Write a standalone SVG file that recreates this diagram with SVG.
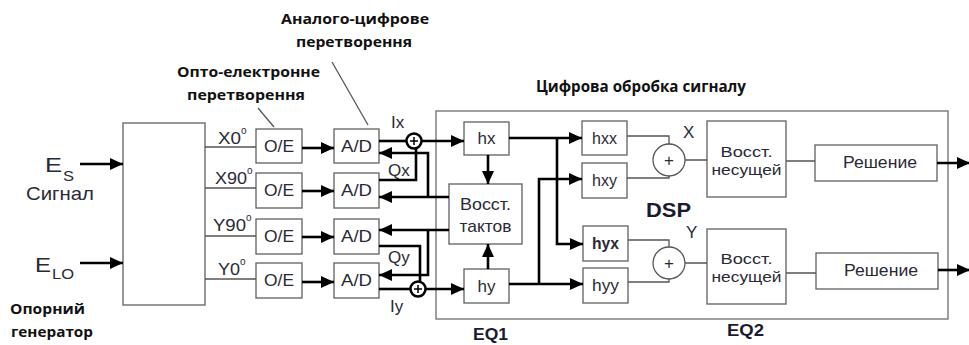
<svg xmlns="http://www.w3.org/2000/svg" width="969" height="345" viewBox="0 0 969 345">
<style>
.bx{fill:#fff;stroke:#606060;stroke-width:1.3}
.dsp{fill:none;stroke:#808080;stroke-width:1.5}
.thin{fill:none;stroke:#555;stroke-width:1.3}
.thk{fill:none;stroke:#000;stroke-width:2.6}
.arr{marker-end:url(#ah)}
.t{font-family:"Liberation Sans",Arial,sans-serif;fill:#2a2a35;font-size:17px}
.c{text-anchor:middle}
.s{font-size:15px}
.b{font-family:"Open Sans","Liberation Sans",sans-serif;font-weight:bold;fill:#111;font-size:15px}
.bl{font-family:"Liberation Sans",Arial,sans-serif;font-weight:bold;fill:#1a1a30}
</style>
<defs>
<marker id="ah" markerUnits="userSpaceOnUse" markerWidth="14" markerHeight="12" refX="13" refY="6" orient="auto">
<path d="M0,0 L13,6 L0,12 z" fill="#000"/>
</marker>
</defs>

<g id="labels-top">
<text class="b" x="281" y="24" textLength="148" lengthAdjust="spacingAndGlyphs">Аналого-цифрове</text>
<text class="b" x="296" y="47" textLength="116" lengthAdjust="spacingAndGlyphs">перетворення</text>
<text class="b" x="177" y="77" textLength="143" lengthAdjust="spacingAndGlyphs">Опто-електронне</text>
<text class="b" x="187" y="100" textLength="118" lengthAdjust="spacingAndGlyphs">перетворення</text>
<text class="b" x="536" y="92" textLength="210" lengthAdjust="spacingAndGlyphs" style="font-size:16px">Цифрова обробка сигналу</text>
</g>

<g id="inputs">
<text class="t" x="45" y="172" style="font-size:20px" textLength="17" lengthAdjust="spacingAndGlyphs">E</text>
<text class="t" x="63" y="181" style="font-size:15px" textLength="11" lengthAdjust="spacingAndGlyphs">S</text>
<text class="t" x="26" y="200" style="font-size:19px" textLength="68" lengthAdjust="spacingAndGlyphs">Сигнал</text>
<text class="t" x="35" y="272" style="font-size:21px" textLength="16" lengthAdjust="spacingAndGlyphs">E</text>
<text class="t" x="52" y="279" style="font-size:14px" textLength="22" lengthAdjust="spacingAndGlyphs">LO</text>
<text class="b" x="10" y="314" textLength="75" lengthAdjust="spacingAndGlyphs">Опорний</text>
<text class="b" x="11" y="337" textLength="82" lengthAdjust="spacingAndGlyphs">генератор</text>
</g>

<g id="hybrid"><rect class="bx" x="123" y="123" width="82" height="182"/></g>

<g id="phase-labels">
<text class="t" x="218" y="144" textLength="23" lengthAdjust="spacingAndGlyphs">X0</text><text class="t" x="241" y="134" style="font-size:10px">o</text>
<text class="t" x="215" y="184" textLength="32" lengthAdjust="spacingAndGlyphs">X90</text><text class="t" x="247" y="174" style="font-size:10px">o</text>
<text class="t" x="213" y="231" textLength="33" lengthAdjust="spacingAndGlyphs">Y90</text><text class="t" x="246" y="221" style="font-size:10px">o</text>
<text class="t" x="218" y="275" textLength="22" lengthAdjust="spacingAndGlyphs">Y0</text><text class="t" x="240" y="265" style="font-size:10px">o</text>
</g>

<g id="oe1"><rect class="bx" x="256" y="129" width="46" height="34"/><text class="t c" x="279" y="152" textLength="30" lengthAdjust="spacingAndGlyphs">O/E</text></g>
<g id="oe2"><rect class="bx" x="256" y="173" width="46" height="35"/><text class="t c" x="279" y="196" textLength="30" lengthAdjust="spacingAndGlyphs">O/E</text></g>
<g id="oe3"><rect class="bx" x="256" y="219" width="46" height="35"/><text class="t c" x="279" y="242" textLength="30" lengthAdjust="spacingAndGlyphs">O/E</text></g>
<g id="oe4"><rect class="bx" x="256" y="263" width="46" height="35"/><text class="t c" x="279" y="286" textLength="30" lengthAdjust="spacingAndGlyphs">O/E</text></g>

<g id="ad1"><rect class="bx" x="334" y="129" width="45" height="34"/><text class="t c" x="356.5" y="152" textLength="31" lengthAdjust="spacingAndGlyphs">A/D</text></g>
<g id="ad2"><rect class="bx" x="334" y="173" width="45" height="35"/><text class="t c" x="356.5" y="196" textLength="31" lengthAdjust="spacingAndGlyphs">A/D</text></g>
<g id="ad3"><rect class="bx" x="334" y="219" width="45" height="35"/><text class="t c" x="356.5" y="242" textLength="31" lengthAdjust="spacingAndGlyphs">A/D</text></g>
<g id="ad4"><rect class="bx" x="334" y="263" width="45" height="35"/><text class="t c" x="356.5" y="286" textLength="31" lengthAdjust="spacingAndGlyphs">A/D</text></g>

<g id="iq-labels">
<text class="t" x="391" y="128">Ix</text>
<text class="t" x="388" y="176">Qx</text>
<text class="t" x="388" y="263">Qy</text>
<text class="t" x="390" y="312">Iy</text>
</g>

<g id="dsp"><rect class="dsp" x="436" y="111" width="512" height="208"/>
<text class="bl" x="646" y="217" style="font-size:20px" textLength="45" lengthAdjust="spacingAndGlyphs">DSP</text>
<text class="bl" x="473" y="340" style="font-size:16px" textLength="35" lengthAdjust="spacingAndGlyphs">EQ1</text>
<text class="bl" x="727" y="336" style="font-size:16px" textLength="37" lengthAdjust="spacingAndGlyphs">EQ2</text>
</g>

<g id="sum-ix"><circle cx="414" cy="141" r="7.5" fill="#fff" stroke="#000" stroke-width="2.5"/><path d="M410,141 H418 M414,137 V145" stroke="#000" stroke-width="1.5"/></g>
<g id="sum-iy"><circle cx="418" cy="289" r="7.5" fill="#fff" stroke="#000" stroke-width="2.5"/><path d="M414,289 H422 M418,285 V293" stroke="#000" stroke-width="1.5"/></g>

<g id="hx"><rect class="bx" x="464" y="122" width="45" height="33"/><text class="t c" x="486.5" y="144">hx</text></g>
<g id="clock"><rect class="bx" x="449" y="184" width="73" height="60"/><text class="t c" x="485.5" y="210" textLength="51" lengthAdjust="spacingAndGlyphs">Восст.</text><text class="t c" x="485.5" y="232" textLength="52" lengthAdjust="spacingAndGlyphs">тактов</text></g>
<g id="hy"><rect class="bx" x="464" y="269" width="45" height="34"/><text class="t c" x="486.5" y="292">hy</text></g>

<g id="hxx"><rect class="bx" x="582" y="121" width="45" height="34"/><text class="t c" x="604.5" y="144" textLength="25" lengthAdjust="spacingAndGlyphs">hxx</text></g>
<g id="hxy"><rect class="bx" x="582" y="163" width="45" height="35"/><text class="t c" x="604.5" y="186" textLength="25" lengthAdjust="spacingAndGlyphs">hxy</text></g>
<g id="hyx"><rect class="bx" x="583" y="226" width="45" height="35"/><text class="t c" x="605.5" y="249" textLength="27" lengthAdjust="spacingAndGlyphs" style="font-weight:bold">hyx</text></g>
<g id="hyy"><rect class="bx" x="583" y="268" width="45" height="35"/><text class="t c" x="605.5" y="291" textLength="27" lengthAdjust="spacingAndGlyphs">hyy</text></g>

<g id="sum-x"><circle cx="669" cy="160" r="16" fill="#fff" stroke="#555" stroke-width="1.3"/><text class="t c" x="669" y="166">+</text><text class="t" x="683" y="138">X</text></g>
<g id="sum-y"><circle cx="669" cy="263" r="16" fill="#fff" stroke="#555" stroke-width="1.3"/><text class="t c" x="669" y="269">+</text><text class="t" x="686" y="238">Y</text></g>

<g id="carrier-x"><rect class="bx" x="707" y="121" width="79" height="76"/><text class="t c s" x="746.5" y="157" textLength="52" lengthAdjust="spacingAndGlyphs">Восст.</text><text class="t c s" x="746.5" y="175" textLength="70" lengthAdjust="spacingAndGlyphs">несущей</text></g>
<g id="carrier-y"><rect class="bx" x="707" y="229" width="79" height="75"/><text class="t c s" x="746.5" y="264" textLength="52" lengthAdjust="spacingAndGlyphs">Восст.</text><text class="t c s" x="746.5" y="282" textLength="70" lengthAdjust="spacingAndGlyphs">несущей</text></g>

<g id="decision-x"><rect class="bx" x="815" y="145" width="122" height="36"/><text class="t c" x="880" y="168" textLength="74" lengthAdjust="spacingAndGlyphs">Решение</text></g>
<g id="decision-y"><rect class="bx" x="816" y="253" width="122" height="36"/><text class="t c" x="881" y="276" textLength="74" lengthAdjust="spacingAndGlyphs">Решение</text></g>

<g id="connectors">
<path class="thin" d="M205,147 H256 M205,188 H256 M205,236 H256 M205,279 H256"/>
<path class="thin" d="M258,108 L274,127 M332,62 L368,125"/>
<path class="thin" d="M627,136 H669 V144 M627,178 H669 V176 M628,240 H669 V247 M628,282 H669 V279"/>
<path class="thin" d="M685,160 H707 M685,263 H707 M786,161 H815 M786,273 H816"/>

<path class="thk arr" d="M80,164 H123"/>
<path class="thk arr" d="M80,263 H123"/>
<path class="thk arr" d="M302,148 H334"/>
<path class="thk arr" d="M302,191 H334"/>
<path class="thk arr" d="M302,237 H334"/>
<path class="thk arr" d="M302,282 H334"/>

<path class="thk" d="M379,141 H406.5"/>
<path class="thk arr" d="M421.5,141 H464"/>
<path class="thk" d="M379,180 H416 V148.5"/>
<path class="thk arr" d="M449,197 H379"/>
<path class="thk arr" d="M428,197 V153 H379"/>
<path class="thk arr" d="M449,230 H379"/>
<path class="thk arr" d="M428,230 V275 H379"/>
<path class="thk" d="M379,246 H420 V281.5"/>
<path class="thk" d="M379,289 H410.5"/>
<path class="thk arr" d="M425.5,289 H464"/>

<path class="thk arr" d="M488,155 V184"/>
<path class="thk arr" d="M488,269 V244"/>
<path class="thk arr" d="M509,138 H582"/>
<path class="thk arr" d="M557,138 V244 H583"/>
<path class="thk arr" d="M509,284 H583"/>
<path class="thk arr" d="M539,284 V179 H582"/>

<path class="thk arr" d="M937,163 H970"/>
<path class="thk arr" d="M938,270 H970"/>
</g>
</svg>
